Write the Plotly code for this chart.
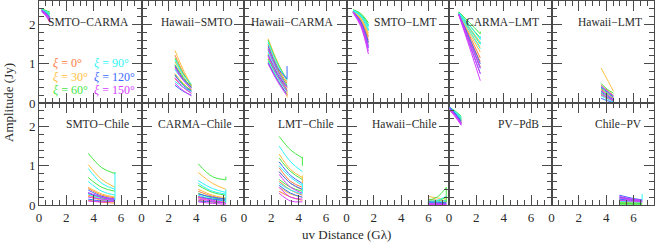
import plotly.graph_objects as go
from plotly.subplots import make_subplots

XI_LABELS = ["0°", "30°", "60°", "90°", "120°", "150°"]
XI_COLORS = ["#FF7A40", "#FFBE3C", "#45E845", "#30F5F5", "#3A6AFF", "#D63CFF"]

PANEL_NAMES = ["SMTO−CARMA", "Hawaii−SMTO", "Hawaii−CARMA", "SMTO−LMT", "CARMA−LMT", "Hawaii−LMT",
               "SMTO−Chile", "CARMA−Chile", "LMT−Chile", "Hawaii−Chile", "PV−PdB", "Chile−PV"]

X_TICKS = [0, 2, 4, 6]
Y_TICKS = [0, 1, 2]

# uv distance samples (Glambda) per panel and amplitudes (Jy): 6 xi values x 3 curves x 3 samples
UV_SMTO_CARMA = [0.2, 0.5, 0.8]
AMP_SMTO_CARMA = [
    [[2.38, 2.30, 2.20], [2.36, 2.28, 2.17], [2.34, 2.26, 2.14]],
    [[2.40, 2.35, 2.28], [2.38, 2.32, 2.24], [2.36, 2.30, 2.20]],
    [[2.40, 2.36, 2.32], [2.39, 2.34, 2.28], [2.37, 2.32, 2.25]],
    [[2.39, 2.34, 2.28], [2.37, 2.32, 2.24], [2.35, 2.29, 2.20]],
    [[2.37, 2.30, 2.18], [2.35, 2.27, 2.14], [2.33, 2.24, 2.10]],
    [[2.36, 2.28, 2.12], [2.34, 2.25, 2.08], [2.32, 2.22, 2.05]],
]
UV_HAWAII_SMTO = [2.45, 3.05, 3.65]
AMP_HAWAII_SMTO = [
    [[1.22, 0.78, 0.42], [0.92, 0.60, 0.33], [0.62, 0.40, 0.25]],
    [[1.34, 0.85, 0.45], [1.05, 0.68, 0.38], [0.75, 0.50, 0.30]],
    [[1.15, 0.75, 0.45], [0.98, 0.65, 0.40], [0.70, 0.48, 0.32]],
    [[1.10, 0.72, 0.48], [0.85, 0.58, 0.40], [0.55, 0.40, 0.30]],
    [[0.95, 0.62, 0.40], [0.72, 0.45, 0.30], [0.45, 0.30, 0.20]],
    [[0.90, 0.58, 0.36], [0.65, 0.40, 0.25], [0.50, 0.32, 0.18]],
]
UV_HAWAII_CARMA = [1.76, 2.45, 3.15]
AMP_HAWAII_CARMA = [
    [[1.50, 0.92, 0.50], [1.25, 0.75, 0.35], [1.05, 0.60, 0.22]],
    [[1.64, 1.05, 0.55], [1.40, 0.88, 0.42], [1.15, 0.70, 0.30]],
    [[1.60, 1.02, 0.60], [1.35, 0.85, 0.45], [1.12, 0.68, 0.32]],
    [[1.55, 0.98, 0.58], [1.30, 0.80, 0.42], [1.08, 0.64, 0.28]],
    [[1.45, 0.90, 0.62], [1.22, 0.73, 0.40], [1.02, 0.58, 0.22]],
    [[1.38, 0.82, 0.40], [1.20, 0.70, 0.30], [1.00, 0.55, 0.18]],
]
UV_SMTO_LMT = [0.48, 1.05, 1.6]
AMP_SMTO_LMT = [
    [[2.34, 2.12, 1.68], [2.33, 2.09, 1.60], [2.32, 2.05, 1.52]],
    [[2.36, 2.20, 1.85], [2.35, 2.17, 1.78], [2.34, 2.14, 1.72]],
    [[2.38, 2.28, 2.05], [2.37, 2.26, 2.00], [2.36, 2.24, 1.95]],
    [[2.37, 2.24, 1.97], [2.36, 2.22, 1.90], [2.35, 2.20, 1.85]],
    [[2.33, 2.08, 1.55], [2.32, 2.04, 1.46], [2.31, 2.00, 1.40]],
    [[2.32, 2.02, 1.42], [2.31, 1.98, 1.33], [2.30, 1.95, 1.25]],
]
UV_CARMA_LMT = [0.72, 1.5, 2.29]
AMP_CARMA_LMT = [
    [[2.28, 1.72, 1.15], [2.27, 1.66, 1.05], [2.26, 1.60, 0.92]],
    [[2.30, 1.92, 1.55], [2.29, 1.85, 1.42], [2.28, 1.78, 1.30]],
    [[2.32, 2.05, 1.76], [2.31, 1.98, 1.66], [2.30, 1.90, 1.50]],
    [[2.31, 1.98, 1.62], [2.30, 1.90, 1.50], [2.29, 1.83, 1.38]],
    [[2.27, 1.65, 1.00], [2.26, 1.58, 0.88], [2.25, 1.50, 0.75]],
    [[2.26, 1.58, 0.90], [2.25, 1.50, 0.75], [2.24, 1.42, 0.57]],
]
UV_HAWAII_LMT = [3.63, 4.08, 4.53]
AMP_HAWAII_LMT = [
    [[0.46, 0.32, 0.20], [0.35, 0.22, 0.12], [0.20, 0.12, 0.05]],
    [[0.89, 0.60, 0.30], [0.45, 0.30, 0.20], [0.30, 0.20, 0.12]],
    [[0.50, 0.35, 0.25], [0.38, 0.25, 0.15], [0.25, 0.15, 0.08]],
    [[0.42, 0.30, 0.18], [0.30, 0.20, 0.10], [0.18, 0.10, 0.03]],
    [[0.40, 0.28, 0.15], [0.28, 0.18, 0.08], [0.12, 0.06, 0.01]],
    [[0.44, 0.30, 0.18], [0.32, 0.20, 0.10], [0.22, 0.14, 0.06]],
]
UV_SMTO_CHILE = [3.6, 4.6, 5.56]
AMP_SMTO_CHILE = [
    [[0.42, 0.25, 0.18], [0.25, 0.15, 0.10], [0.12, 0.07, 0.05]],
    [[1.03, 0.65, 0.45], [0.45, 0.28, 0.20], [0.22, 0.12, 0.08]],
    [[1.32, 0.95, 0.80], [0.70, 0.45, 0.35], [0.30, 0.18, 0.12]],
    [[0.93, 0.55, 0.40], [0.60, 0.35, 0.25], [0.28, 0.15, 0.10]],
    [[0.38, 0.22, 0.15], [0.30, 0.20, 0.14], [0.15, 0.10, 0.10]],
    [[0.32, 0.20, 0.15], [0.20, 0.15, 0.12], [0.10, 0.08, 0.10]],
]
UV_CARMA_CHILE = [4.15, 5.2, 6.17]
AMP_CARMA_CHILE = [
    [[0.35, 0.22, 0.15], [0.22, 0.14, 0.10], [0.12, 0.07, 0.05]],
    [[0.83, 0.55, 0.40], [0.40, 0.25, 0.18], [0.18, 0.10, 0.08]],
    [[1.05, 0.72, 0.64], [0.50, 0.32, 0.25], [0.30, 0.18, 0.15]],
    [[0.62, 0.42, 0.32], [0.55, 0.35, 0.28], [0.25, 0.15, 0.10]],
    [[0.28, 0.20, 0.15], [0.20, 0.15, 0.12], [0.10, 0.08, 0.06]],
    [[0.20, 0.12, 0.05], [0.15, 0.10, 0.05], [0.08, 0.04, 0.02]],
]
UV_LMT_CHILE = [2.57, 3.42, 4.27]
AMP_LMT_CHILE = [
    [[0.95, 0.60, 0.45], [0.60, 0.38, 0.25], [0.35, 0.20, 0.12]],
    [[1.30, 0.90, 0.70], [0.85, 0.55, 0.38], [0.45, 0.28, 0.20]],
    [[1.75, 1.40, 1.20], [1.20, 0.85, 0.65], [0.65, 0.45, 0.35]],
    [[1.50, 1.10, 0.85], [1.00, 0.70, 0.50], [0.55, 0.38, 0.28]],
    [[1.10, 0.75, 0.55], [0.85, 0.55, 0.40], [0.50, 0.30, 0.20]],
    [[0.78, 0.45, 0.30], [0.45, 0.20, 0.15], [0.30, 0.10, 0.08]],
]
UV_HAWAII_CHILE = [5.96, 6.63, 7.3]
AMP_HAWAII_CHILE = [
    [[0.15, 0.12, 0.10], [0.08, 0.06, 0.05], [0.04, 0.03, 0.03]],
    [[0.22, 0.18, 0.15], [0.12, 0.10, 0.12], [0.06, 0.05, 0.06]],
    [[0.12, 0.20, 0.45], [0.08, 0.10, 0.20], [0.04, 0.05, 0.08]],
    [[0.10, 0.12, 0.22], [0.06, 0.08, 0.12], [0.03, 0.04, 0.05]],
    [[0.08, 0.07, 0.06], [0.05, 0.04, 0.03], [0.02, 0.02, 0.02]],
    [[0.04, 0.03, 0.02], [0.02, 0.02, 0.01], [0.01, 0.01, 0.01]],
]
UV_PV_PDB = [0.05, 0.45, 0.9]
AMP_PV_PDB = [
    [[2.45, 2.32, 2.12], [2.43, 2.30, 2.09], [2.41, 2.28, 2.06]],
    [[2.47, 2.37, 2.22], [2.45, 2.35, 2.18], [2.43, 2.33, 2.15]],
    [[2.48, 2.40, 2.26], [2.46, 2.38, 2.22], [2.44, 2.35, 2.18]],
    [[2.48, 2.38, 2.24], [2.46, 2.36, 2.20], [2.44, 2.33, 2.16]],
    [[2.50, 2.34, 2.14], [2.48, 2.32, 2.10], [2.46, 2.30, 2.07]],
    [[2.46, 2.30, 2.08], [2.44, 2.28, 2.05], [2.42, 2.25, 2.03]],
]
UV_CHILE_PV = [4.97, 5.8, 6.63]
AMP_CHILE_PV = [
    [[0.18, 0.14, 0.10], [0.14, 0.10, 0.08], [0.10, 0.08, 0.06]],
    [[0.12, 0.10, 0.08], [0.08, 0.06, 0.05], [0.05, 0.04, 0.04]],
    [[0.06, 0.05, 0.04], [0.04, 0.03, 0.03], [0.02, 0.02, 0.02]],
    [[0.20, 0.15, 0.12], [0.15, 0.12, 0.10], [0.10, 0.08, 0.07]],
    [[0.25, 0.18, 0.13], [0.20, 0.15, 0.12], [0.15, 0.12, 0.10]],
    [[0.22, 0.16, 0.12], [0.18, 0.13, 0.10], [0.12, 0.10, 0.08]],
]

# end-of-track turnarounds: (xi index, amplitude from, amplitude to) at the last uv sample
HOOKS_HAWAII_CARMA = [(4, 0.62, 0.94), (1, 0.30, 0.14)]
HOOKS_SMTO_LMT = [(3, 1.97, 2.02), (3, 1.85, 1.90)]
HOOKS_CARMA_LMT = [(2, 1.76, 1.82), (3, 1.62, 1.70), (3, 1.50, 1.56)]
HOOKS_SMTO_CHILE = [(2, 0.80, 0.84), (3, 0.12, 0.82)]
HOOKS_CARMA_CHILE = [(2, 0.64, 0.72), (3, 0.05, 0.40)]
HOOKS_LMT_CHILE = [(2, 1.00, 1.22), (1, 0.55, 0.75), (3, 0.30, 0.55)]
HOOKS_HAWAII_CHILE = [(2, 0.45, 0.08)]
HOOKS_CHILE_PV = [(3, 0.12, 0.28)]

PANELS = [
    (UV_SMTO_CARMA, AMP_SMTO_CARMA, []),
    (UV_HAWAII_SMTO, AMP_HAWAII_SMTO, []),
    (UV_HAWAII_CARMA, AMP_HAWAII_CARMA, HOOKS_HAWAII_CARMA),
    (UV_SMTO_LMT, AMP_SMTO_LMT, HOOKS_SMTO_LMT),
    (UV_CARMA_LMT, AMP_CARMA_LMT, HOOKS_CARMA_LMT),
    (UV_HAWAII_LMT, AMP_HAWAII_LMT, []),
    (UV_SMTO_CHILE, AMP_SMTO_CHILE, HOOKS_SMTO_CHILE),
    (UV_CARMA_CHILE, AMP_CARMA_CHILE, HOOKS_CARMA_CHILE),
    (UV_LMT_CHILE, AMP_LMT_CHILE, HOOKS_LMT_CHILE),
    (UV_HAWAII_CHILE, AMP_HAWAII_CHILE, HOOKS_HAWAII_CHILE),
    (UV_PV_PDB, AMP_PV_PDB, []),
    (UV_CHILE_PV, AMP_CHILE_PV, HOOKS_CHILE_PV),
]

FONT = "Liberation Serif"
AXC = "#4a4a4a"

fig = make_subplots(rows=2, cols=6, horizontal_spacing=0, vertical_spacing=0)

for k, (uv, amps, hooks) in enumerate(PANELS):
    r, c = k // 6 + 1, k % 6 + 1
    for ci, group in enumerate(amps):
        for curve in group:
            fig.add_trace(go.Scatter(x=uv, y=curve, mode="lines", line=dict(color=XI_COLORS[ci], width=1, shape="spline"),
                                     showlegend=False, hoverinfo="skip"), row=r, col=c)
    for ci, a0, a1 in hooks:
        fig.add_trace(go.Scatter(x=[uv[-1], uv[-1]], y=[a0, a1], mode="lines", line=dict(color=XI_COLORS[ci], width=1),
                                 showlegend=False, hoverinfo="skip"), row=r, col=c)
    fig.add_annotation(text=PANEL_NAMES[k], x=6.75, y=2.07, xanchor="right", yanchor="middle", showarrow=False,
                       font=dict(family=FONT, size=11.5, color="#2a2a2a"), row=r, col=c)
    fig.update_xaxes(range=[0, 7.5], tickvals=X_TICKS, ticks="inside", ticklen=10, tickwidth=1, tickcolor=AXC,
                     minor=dict(dtick=0.5, ticks="inside", ticklen=5, tickcolor=AXC),
                     showline=True, linecolor=AXC, linewidth=1, mirror="allticks", showgrid=False, zeroline=False,
                     showticklabels=(r == 2), tickfont=dict(family=FONT, size=13, color="#2a2a2a"), row=r, col=c)
    fig.update_yaxes(range=[0, 2.6], tickvals=Y_TICKS, ticks="inside", ticklen=10, tickwidth=1, tickcolor=AXC,
                     minor=dict(dtick=0.2, ticks="inside", ticklen=5, tickcolor=AXC),
                     showline=True, linecolor=AXC, linewidth=1, mirror="allticks", showgrid=False, zeroline=False,
                     showticklabels=(c == 1), tickfont=dict(family=FONT, size=13, color="#2a2a2a"), row=r, col=c)

leg_pos = [(0.9, 1.01), (0.9, 0.66), (0.9, 0.33), (3.9, 1.01), (3.9, 0.66), (3.9, 0.33)]
for i, (lx, ly) in enumerate(leg_pos):
    fig.add_annotation(text="<i>ξ</i> = " + XI_LABELS[i], x=lx, y=ly, xanchor="left", yanchor="middle", showarrow=False,
                       font=dict(family=FONT, size=12, color=XI_COLORS[i]), row=1, col=1)

fig.add_annotation(text="Amplitude (Jy)", xref="paper", yref="paper", x=0, y=0.5, xshift=-31, textangle=-90,
                   xanchor="center", yanchor="middle",
                   showarrow=False, font=dict(family=FONT, size=13, color="#2a2a2a"))
fig.add_annotation(text="uv Distance (Gλ)", xref="paper", yref="paper", x=0.5, y=0, yshift=-29,
                   xanchor="center", yanchor="middle",
                   showarrow=False, font=dict(family=FONT, size=13, color="#2a2a2a"))

fig.update_layout(width=656, height=242, margin=dict(l=39, r=2, t=1, b=37),
                  paper_bgcolor="white", plot_bgcolor="white", showlegend=False)

fig.write_html("out.html", config={"displayModeBar": False},
               post_script="document.body.style.margin='0px';document.body.style.overflow='hidden';")
